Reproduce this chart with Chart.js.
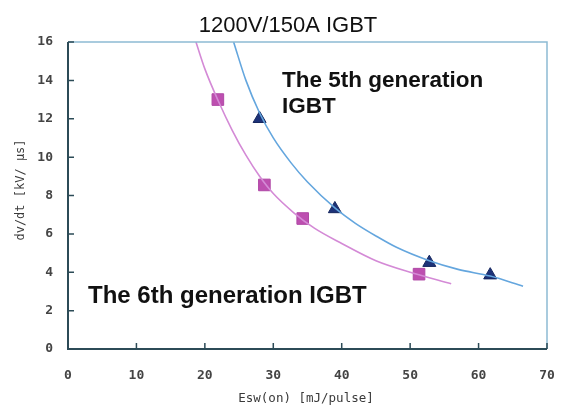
<!DOCTYPE html>
<html><head><meta charset="utf-8">
<script src="https://cdn.jsdelivr.net/npm/chart.js@4"></script>
<style>html,body{margin:0;padding:0;background:#fff}#wrap{width:561px;height:408px}</style>
</head><body><div id="wrap"><canvas id="c" width="561" height="408"></canvas></div>
<script>
// Data
const xTicks = [0,10,20,30,40,50,60,70];
const yTicks = [0,2,4,6,8,10,12,14,16];
// 6th generation IGBT measured points (squares)
const gen6X = [21.9, 28.7, 34.3, 51.3];
const gen6Y = [13.0, 8.55, 6.8, 3.9];
// 5th generation IGBT measured points (triangles)
const gen5X = [28.0, 39.0, 52.8, 61.7];
const gen5Y = [12.0, 7.3, 4.5, 3.85];
// fitted curves
const fit6X = [18.7, 20, 22, 24, 26, 28, 30, 33, 36, 40, 45, 50, 56];
const fit6Y = [16.0, 14.6, 12.9, 11.4, 10.1, 9.0, 8.1, 7.1, 6.3, 5.5, 4.6, 4.0, 3.4];
const fit5X = [24.2, 26, 28, 30, 32.6, 35, 39, 42, 45.2, 48, 52.8, 57, 61.7, 66.5];
const fit5Y = [16.0, 14.0, 12.3, 11.0, 9.7, 8.7, 7.35, 6.55, 5.85, 5.3, 4.6, 4.15, 3.8, 3.27];

const toPts = (xs, ys) => xs.map((x, i) => ({x, y: ys[i]}));

const deco = {
  id: 'deco',
  afterDraw(chart) {
    const {ctx, chartArea: a, scales: {x, y}} = chart;
    ctx.save();
    // light blue top/right frame
    ctx.strokeStyle = '#8dbbd3';
    ctx.lineWidth = 1.5;
    ctx.beginPath();
    ctx.moveTo(a.left, a.top); ctx.lineTo(a.right, a.top); ctx.lineTo(a.right, a.bottom);
    ctx.stroke();
    // dark axes
    ctx.strokeStyle = '#2c4b57';
    ctx.lineWidth = 2;
    ctx.beginPath();
    ctx.moveTo(a.left, a.top); ctx.lineTo(a.left, a.bottom); ctx.lineTo(a.right, a.bottom);
    ctx.stroke();
    // inward ticks
    ctx.lineWidth = 1.5;
    ctx.beginPath();
    xTicks.forEach(v => { const px = x.getPixelForValue(v); ctx.moveTo(px, a.bottom); ctx.lineTo(px, a.bottom - 6); });
    yTicks.forEach(v => { const py = y.getPixelForValue(v); ctx.moveTo(a.left, py); ctx.lineTo(a.left + 6, py); });
    ctx.stroke();
    // title
    ctx.fillStyle = '#111';
    ctx.textAlign = 'center';
    ctx.textBaseline = 'middle';
    ctx.font = '22px "Liberation Sans", Arial, sans-serif';
    ctx.fillText('1200V/150A IGBT', 288, 26);
    // annotations
    ctx.textAlign = 'left';
    ctx.font = 'bold 22.5px "Liberation Sans", Arial, sans-serif';
    ctx.fillText('The 5th generation', 282, 81);
    ctx.fillText('IGBT', 282, 107);
    ctx.font = 'bold 24px "Liberation Sans", Arial, sans-serif';
    ctx.fillText('The 6th generation IGBT', 88, 296);
    // axis titles
    ctx.fillStyle = '#3a3a3a';
    ctx.font = '12.5px "DejaVu Sans Mono", "Liberation Mono", monospace';
    ctx.textAlign = 'center';
    ctx.fillText('Esw(on) [mJ/pulse]', 306, 399);
    ctx.translate(21, 190);
    ctx.rotate(-Math.PI / 2);
    ctx.font = '12px "DejaVu Sans Mono", "Liberation Mono", monospace';
    ctx.fillText('dv/dt [kV/ μs]', 0, 0);
    ctx.restore();
  }
};

const tickFont = {family: '"DejaVu Sans Mono", "Liberation Mono", monospace', size: 13, weight: 'bold'};

new Chart(document.getElementById('c'), {
  type: 'scatter',
  data: {
    datasets: [
      {label: '6th fit', data: toPts(fit6X, fit6Y), showLine: true, tension: 0.4, cubicInterpolationMode: 'monotone',
       borderColor: '#d48ad6', borderWidth: 1.6, pointRadius: 0, fill: false},
      {label: '5th fit', data: toPts(fit5X, fit5Y), showLine: true, tension: 0.4, cubicInterpolationMode: 'monotone',
       borderColor: '#64a6de', borderWidth: 1.6, pointRadius: 0, fill: false},
      {label: '6th', data: toPts(gen6X, gen6Y), pointStyle: 'rect', pointRadius: 8.2,
       backgroundColor: '#bd4fb0', borderColor: '#b048a6', borderWidth: 1},
      {label: '5th', data: toPts(gen5X, gen5Y), pointStyle: 'triangle', pointRadius: 7.5,
       backgroundColor: '#1d3278', borderColor: '#15265e', borderWidth: 1}
    ]
  },
  options: {
    responsive: false,
    animation: false,
    layout: {autoPadding: false, padding: {left: 0, right: 14, top: 42, bottom: 0}},
    plugins: {legend: {display: false}, tooltip: {enabled: false}},
    scales: {
      x: {
        type: 'linear', min: 0, max: 70,
        afterBuildTicks: s => { s.ticks = xTicks.map(v => ({value: v})); },
        afterFit: s => { s.height = 59; s.paddingRight = 0; },
        grid: {display: false, drawTicks: false},
        border: {display: false},
        ticks: {padding: 19, color: '#444', font: tickFont}
      },
      y: {
        type: 'linear', min: 0, max: 16,
        afterBuildTicks: s => { s.ticks = yTicks.map(v => ({value: v})); },
        afterFit: s => { s.width = 68; s.paddingTop = 0; s.paddingBottom = 0; },
        grid: {display: false, drawTicks: false},
        border: {display: false},
        ticks: {padding: 15, color: '#444', font: tickFont}
      }
    }
  },
  plugins: [deco]
});
</script>
</body></html>
